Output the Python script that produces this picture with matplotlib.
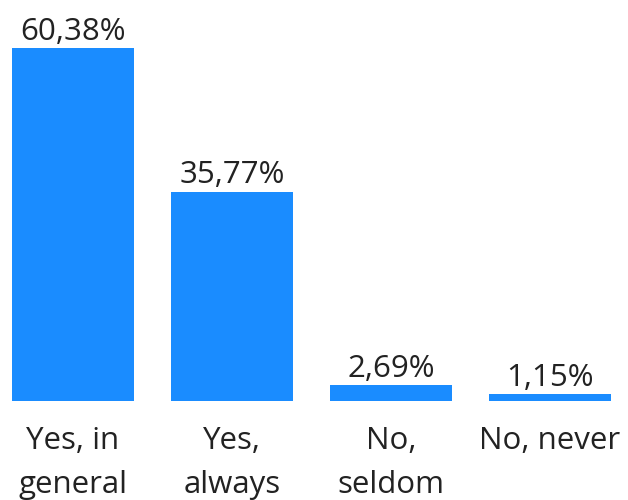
import matplotlib.pyplot as plt

categories = ["Yes, in\ngeneral", "Yes,\nalways", "No,\nseldom", "No, never"]
values = [60.38, 35.77, 2.69, 1.15]
labels = ["60,38%", "35,77%", "2,69%", "1,15%"]

plt.rcParams["font.family"] = ["Open Sans", "DejaVu Sans"]

W, H = 628, 500
fig = plt.figure(figsize=(W / 100, H / 100), dpi=100)
# axes placed in pixel terms: bars span x 12..611, baseline y=401, tallest top y=48
ax = fig.add_axes([12 / W, (H - 401) / H, 599 / W, (401 - 48) / H])

width = 122 / 159
x = range(len(values))
bars = ax.bar(x, values, width=width, color="#1a8cff")
ax.set_xlim(-width / 2, len(values) - 1 + width / 2)
ax.set_ylim(0, max(values))

for b, lab in zip(bars, labels):
    ax.annotate(lab, (b.get_x() + b.get_width() / 2, b.get_height()),
                xytext=(0, 1), textcoords="offset points",
                ha="center", va="bottom", fontsize=22.5, color="#222222",
                annotation_clip=False)

ax.set_xticks(list(x))
ax.set_xticklabels(categories, fontsize=22.5, color="#222222", linespacing=1.6)
ax.tick_params(axis="x", length=0, pad=18)
ax.set_yticks([])
for s in ax.spines.values():
    s.set_visible(False)

fig.savefig("out.png", dpi=100)
